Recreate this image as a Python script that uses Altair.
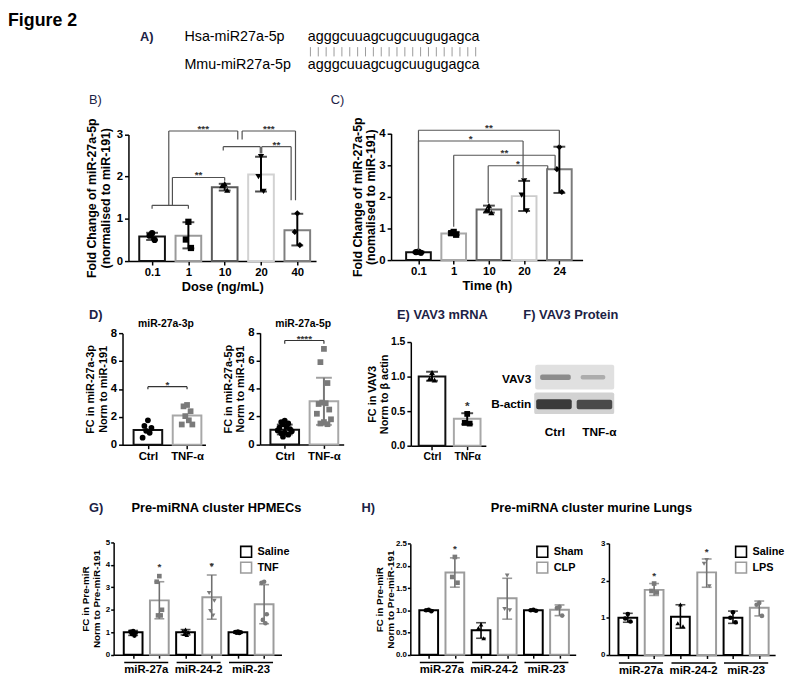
import json
import altair as alt
import pandas as pd

FONT = "Liberation Sans"
NAVY = "#1c2245"
BAR_GREY = "#a8a8a8"
PT_GREY = "#7a7a7a"
W, H = 777, 672

# ---------------- data ----------------
A_species = ["Hsa-miR27a-5p", "Mmu-miR27a-5p"]
A_sequence = "agggcuuagcugcuugugagca"

B_doses = ["0.1", "1", "10", "20", "40"]
B_means = [0.58, 0.60, 1.75, 2.05, 0.73]
B_points = [[0.66, 0.60, 0.50], [0.93, 0.51, 0.31], [1.83, 1.79, 1.68],
            [2.47, 2.00, 1.65], [1.13, 0.69, 0.38]]
B_low = [0.50, 0.30, 1.67, 1.65, 0.37]
B_high = [0.67, 0.92, 1.83, 2.47, 1.12]
# x1, x2 (category index), bracket level, left leg end, right leg end, label
B_brackets = [
    (0.00, 1.00, 1.32, 1.24, 1.24, ""),
    (0.56, 2.00, 1.98, 1.32, 1.90, "**"),
    (0.46, 2.36, 3.08, 1.32, 2.88, "***"),
    (2.48, 3.95, 3.08, 2.88, 1.44, "***"),
    (1.96, 2.98, 2.71, 2.62, 2.55, ""),
    (3.02, 3.83, 2.71, 2.55, 1.44, "**"),
]

C_times = ["0.1", "1", "10", "20", "24"]
C_means = [0.25, 0.84, 1.60, 2.02, 2.87]
C_points = [[0.27, 0.25, 0.23], [0.89, 0.85, 0.80], [1.72, 1.58, 1.50],
            [2.50, 2.05, 1.55], [3.57, 2.87, 2.15]]
C_low = [0.23, 0.79, 1.50, 1.55, 2.12]
C_high = [0.27, 0.89, 1.72, 2.50, 3.58]
C_brackets = [
    (0.00, 4.00, 4.10, 0.32, 3.62, "**"),
    (0.00, 2.97, 3.76, 0.32, 2.56, "*"),
    (1.00, 3.88, 3.31, 1.05, 2.87, "**"),
    (1.98, 3.67, 2.98, 1.80, 2.87, "*"),
]

D_groups = ["Ctrl", "TNF-α"]
D3p_means = [1.05, 2.10]
D3p_points = [[1.75, 1.35, 1.20, 1.00, 0.85, 0.50],
              [2.85, 2.75, 2.40, 2.05, 1.75, 1.45, 1.45]]
D3p_brackets = [(0, 1, 4.16, 3.97, 3.97, "*")]
D5p_means = [1.05, 3.10]
D5p_points = [[1.70, 1.60, 1.50, 1.45, 1.30, 1.20, 1.10, 1.00, 0.95, 0.85, 0.80, 0.70, 0.55],
              [6.85, 5.90, 4.40, 3.00, 2.95, 2.90, 2.50, 2.20, 1.80, 1.60, 1.50, 1.45]]
D5p_low = [0.72, 1.40]
D5p_high = [1.42, 4.78]
D5p_brackets = [(0, 1, 7.45, 7.22, 7.22, "****")]

E_groups = ["Ctrl", "TNFα"]
E_means = [1.00, 0.39]
E_points = [[1.06, 0.97, 0.95], [0.46, 0.33, 0.32]]
E_low = [0.94, 0.31]
E_high = [1.07, 0.47]
E_stars = [(1, 0.62, "*")]

F_lanes = ["Ctrl", "TNF-α"]
F_proteins = ["VAV3", "B-actin"]

PRE_groups = ["miR-27a", "miR-24-2", "miR-23"]
G_treats = ["Saline", "TNF"]
G_means = [[1.00, 1.00, 1.00], [2.42, 2.56, 2.25]]
G_points = [
    [[1.05, 1.02, 0.98, 0.92, 0.85], [1.12, 1.06, 1.00, 0.92, 0.88], [1.03, 1.01, 1.00, 0.98, 0.97]],
    [[3.50, 3.25, 2.00, 1.75, 1.75], [3.97, 2.75, 2.40, 1.95, 1.75], [3.25, 3.20, 1.80, 1.55, 1.40]],
]
G_low = [[0.86, 0.88, 0.96], [1.60, 1.58, 1.38]]
G_high = [[1.08, 1.12, 1.03], [3.25, 3.55, 3.12]]
G_stars = [(0.5, 4.05, "*"), (1.5, 4.10, "*")]

H1_treats = ["Sham", "CLP"]
H1_means = [[1.00, 0.55, 1.00], [1.85, 1.27, 1.01]]
H1_points = [
    [[1.01, 1.00, 0.98], [0.68, 0.60, 0.37], [1.01, 1.00, 0.99]],
    [[2.20, 1.75, 1.62], [1.78, 1.00, 1.03], [1.08, 1.05, 0.88]],
]
H1_low = [[0.98, 0.37, 0.99], [1.52, 0.80, 0.88]]
H1_high = [[1.01, 0.72, 1.01], [2.18, 1.72, 1.12]]
H1_stars = [(0.5, 2.45, "*")]

H2_treats = ["Saline", "LPS"]
H2_means = [[1.00, 1.03, 1.00], [1.75, 2.22, 1.27]]
H2_points = [
    [[1.10, 0.98, 0.90], [1.36, 0.85, 0.77], [1.15, 1.00, 0.88]],
    [[1.92, 1.72, 1.68], [2.55, 2.45, 1.85], [1.40, 1.35, 1.05]],
]
H2_low = [[0.88, 0.72, 0.85], [1.60, 1.82, 1.05]]
H2_high = [[1.12, 1.35, 1.18], [1.92, 2.58, 1.45]]
H2_stars = [(0.5, 2.20, "*"), (1.5, 2.85, "*")]


# ---------------- helpers ----------------
def dummy():
    return pd.DataFrame({"d": [0]})


def txt(text, x, y, size=13, weight="bold", color="black", align="left", baseline="middle"):
    return alt.Chart(dummy()).mark_text(
        text=text, font=FONT, fontSize=size, fontWeight=weight, color=color,
        align=align, baseline=baseline).encode(x=alt.value(x), y=alt.value(y))


def spread(vals, step):
    order = sorted(range(len(vals)), key=lambda k: -vals[k])
    pattern = [0, -1, 1, -0.5, 0.5, -1.5, 1.5, -2, 2]
    offs = [0.0] * len(vals)
    for r, k in enumerate(order):
        offs[k] = pattern[r % len(pattern)] * step
    return offs


def panel(layers):
    return alt.layer(*layers).resolve_axis(x="independent", y="independent")


def bracket_layers(brackets, xs, ys, color, star_size):
    segs, labs = [], []
    for x1, x2, y, l1, l2, lab in brackets:
        segs += [dict(x=x1, x2=x2, y=y, y2=y), dict(x=x1, x2=x1, y=y, y2=l1),
                 dict(x=x2, x2=x2, y=y, y2=l2)]
        if lab:
            labs.append(dict(x=(x1 + x2) / 2, y=y, t=lab))
    out = [alt.Chart(pd.DataFrame(segs)).mark_rule(strokeWidth=1.2, color=color).encode(
        x=alt.X("x:Q", scale=xs, axis=None), x2="x2:Q",
        y=alt.Y("y:Q", scale=ys, axis=None), y2="y2:Q")]
    if labs:
        out.append(alt.Chart(pd.DataFrame(labs)).mark_text(
            font=FONT, fontSize=star_size, fontWeight="bold", color="#333",
            baseline="alphabetic", dy=1).encode(
            x=alt.X("x:Q", scale=xs, axis=None), y=alt.Y("y:Q", scale=ys, axis=None), text="t:N"))
    return out


def star_layer(stars, xs, ys, size):
    df = pd.DataFrame([dict(x=a, y=b, t=c) for a, b, c in stars])
    return alt.Chart(df).mark_text(font=FONT, fontSize=size, fontWeight="bold", color="#333",
                                   baseline="middle", dy=3).encode(
        x=alt.X("x:Q", scale=xs, axis=None), y=alt.Y("y:Q", scale=ys, axis=None), text="t:N")


def bar_panel(cats, means, points, low, high, *, xrange, xdom, yrange, yticks, yfmt,
              bar_strokes, pt_colors, err_colors, shapes, bar_size, pt_size, cap,
              ytitle, ytitle_size, ytitle_pad, ylab_size, xlab_size, xtitle=None,
              xtitle_size=12, brackets=(), stars=(), star_size=10, br_color="#444",
              step=0.07, err_w=2):
    n = len(cats)
    xs = alt.Scale(domain=xdom, range=xrange, nice=False, zero=False)
    ys = alt.Scale(domain=[0, yticks[-1]], range=yrange, nice=False)
    xkw = dict(orient="bottom", offset=-(H - yrange[0]), values=list(range(n)),
               labelExpr=json.dumps(cats) + "[datum.value]",
               labelFontSize=xlab_size, labelPadding=2, title=xtitle)
    if xtitle:
        xkw.update(titleFontSize=xtitle_size, titlePadding=2)
    ykw = dict(orient="left", offset=-xrange[0], values=yticks, format=yfmt,
               labelFontSize=ylab_size, title=ytitle, titleFontSize=ytitle_size,
               titlePadding=ytitle_pad, titleLineHeight=ytitle_size + 1.5)
    bars = pd.DataFrame({"pos": list(range(n)), "mean": means, "stroke": bar_strokes})
    layers = [alt.Chart(bars).mark_bar(fill="white", strokeWidth=2, size=bar_size).encode(
        x=alt.X("pos:Q", scale=xs, axis=alt.Axis(**xkw)),
        y=alt.Y("mean:Q", scale=ys, axis=alt.Axis(**ykw)),
        stroke=alt.Stroke("stroke:N", scale=None))]
    if low is not None:
        err = pd.DataFrame({"pos": list(range(n)), "lo": low, "hi": high, "col": err_colors})
        layers.append(alt.Chart(err).mark_rule(strokeWidth=err_w).encode(
            x=alt.X("pos:Q", scale=xs, axis=None), y=alt.Y("lo:Q", scale=ys, axis=None),
            y2="hi:Q", color=alt.Color("col:N", scale=None)))
        caps = pd.DataFrame({"pos": list(range(n)) * 2, "v": list(low) + list(high),
                             "col": list(err_colors) * 2})
        layers.append(alt.Chart(caps).mark_tick(orient="horizontal", size=cap, thickness=err_w).encode(
            x=alt.X("pos:Q", scale=xs, axis=None), y=alt.Y("v:Q", scale=ys, axis=None),
            color=alt.Color("col:N", scale=None)))
    rows = []
    for i, vals in enumerate(points):
        for v, o in zip(vals, spread(vals, step)):
            rows.append(dict(px=i + o, v=v, shape=shapes[i], col=pt_colors[i]))
    layers.append(alt.Chart(pd.DataFrame(rows)).mark_point(filled=True, size=pt_size, opacity=1).encode(
        x=alt.X("px:Q", scale=xs, axis=None), y=alt.Y("v:Q", scale=ys, axis=None),
        shape=alt.Shape("shape:N", scale=None), color=alt.Color("col:N", scale=None)))
    if brackets:
        layers += bracket_layers(brackets, xs, ys, br_color, star_size)
    if stars:
        layers.append(star_layer(stars, xs, ys, star_size + 2))
    return panel(layers)


def grouped_panel(groups, treats, means, points, low, high, *, xrange, xdom, yrange, yticks,
                  yfmt, ytitle, stars, legend_xy, ytitle_pad=5):
    xs = alt.Scale(domain=xdom, range=xrange, nice=False, zero=False)
    ys = alt.Scale(domain=[0, yticks[-1]], range=yrange, nice=False)
    shapes = [["circle", "triangle-up", "circle"], ["square", "triangle-down", "circle"]]
    pt_cols = ["black", PT_GREY]
    err_cols = ["black", "#707070"]
    bar_rows, err_rows, cap_rows, pt_rows = [], [], [], []
    for t, tr in enumerate(treats):
        for g in range(len(groups)):
            pos = g + 0.5 * t
            bar_rows.append(dict(pos=pos, mean=means[t][g], treat=tr))
            err_rows.append(dict(pos=pos, lo=low[t][g], hi=high[t][g], col=err_cols[t]))
            cap_rows += [dict(pos=pos, v=low[t][g], col=err_cols[t]),
                         dict(pos=pos, v=high[t][g], col=err_cols[t])]
            vals = points[t][g]
            for v, o in zip(vals, spread(vals, 0.05)):
                pt_rows.append(dict(px=pos + o, v=v, shape=shapes[t][g], col=pt_cols[t]))
    ykw = dict(orient="left", offset=-xrange[0], values=yticks, format=yfmt, labelFontSize=8,
               tickSize=3, labelPadding=1)
    if ytitle:
        ykw.update(title=ytitle, titleFontSize=10, titleLineHeight=11.5, titlePadding=ytitle_pad)
    else:
        ykw.update(title=None)
    xkw = dict(orient="bottom", offset=-(H - yrange[0]),
               values=[g + 0.5 * t for g in range(len(groups)) for t in range(len(treats))],
               labels=False, title=None, tickSize=3.5)
    legend = alt.Legend(orient="none", legendX=legend_xy[0], legendY=legend_xy[1], title=None,
                        symbolType="square", symbolSize=121, symbolStrokeWidth=1.6,
                        symbolFillColor="white", labelFont=FONT, labelFontSize=11,
                        labelFontWeight="bold", labelColor="black", rowPadding=-4,
                        padding=0, labelOffset=5)
    base = yrange[0]
    layers = [
        alt.Chart(pd.DataFrame(bar_rows)).mark_bar(fill="white", strokeWidth=2, size=19).encode(
            x=alt.X("pos:Q", scale=xs, axis=alt.Axis(**xkw)),
            y=alt.Y("mean:Q", scale=ys, axis=alt.Axis(**ykw)),
            stroke=alt.Stroke("treat:N", scale=alt.Scale(domain=treats, range=["black", "#9c9c9c"]),
                              legend=legend)),
        alt.Chart(pd.DataFrame(err_rows)).mark_rule(strokeWidth=1.6).encode(
            x=alt.X("pos:Q", scale=xs, axis=None), y=alt.Y("lo:Q", scale=ys, axis=None),
            y2="hi:Q", color=alt.Color("col:N", scale=None)),
        alt.Chart(pd.DataFrame(cap_rows)).mark_tick(orient="horizontal", size=10, thickness=1.6).encode(
            x=alt.X("pos:Q", scale=xs, axis=None), y=alt.Y("v:Q", scale=ys, axis=None),
            color=alt.Color("col:N", scale=None)),
        alt.Chart(pd.DataFrame(pt_rows)).mark_point(filled=True, size=22, opacity=1).encode(
            x=alt.X("px:Q", scale=xs, axis=None), y=alt.Y("v:Q", scale=ys, axis=None),
            shape=alt.Shape("shape:N", scale=None), color=alt.Color("col:N", scale=None)),
        star_layer(stars, xs, ys, 10),
    ]
    gdf = pd.DataFrame({"gx": [g + 0.25 for g in range(len(groups))],
                        "a": [g + 0.25 - 0.42 for g in range(len(groups))],
                        "b": [g + 0.25 + 0.42 for g in range(len(groups))],
                        "name": groups})
    layers.append(alt.Chart(gdf).mark_rule(color="black", strokeWidth=1.5).encode(
        x=alt.X("a:Q", scale=xs, axis=None), x2="b:Q", y=alt.value(base + 8)))
    layers.append(alt.Chart(gdf).mark_text(font=FONT, fontSize=11.5, fontWeight="bold",
                                           color="black", baseline="middle").encode(
        x=alt.X("gx:Q", scale=xs, axis=None), y=alt.value(base + 16), text="name:N"))
    return panel(layers)


# ---------------- header (Figure 2 / panel A) ----------------
seq_df = pd.DataFrame({"i": list(range(len(A_sequence)))})
header = [
    txt("Figure 2", 0, 0, size=18, baseline="top"),
    txt("A)", 133.7, 25.3, size=13, color=NAVY),
    txt(A_species[0], 178.7, 24.7, size=14.5, weight="normal"),
    txt(A_sequence, 303.7, 24.7, size=14.5, weight="normal"),
    txt(A_species[1], 178.7, 53, size=14.5, weight="normal"),
    txt(A_sequence, 303.7, 53, size=14.5, weight="normal"),
    alt.Chart(seq_df).mark_rule(color="#9a9a9a", strokeWidth=1).encode(
        x=alt.X("i:Q", scale=alt.Scale(domain=[0, 21], range=[306.3, 473.7], nice=False, zero=False),
                axis=None),
        y=alt.value(35.3), y2=alt.value(44.7)),
]

# ---------------- B and C ----------------
B = bar_panel(B_doses, B_means, B_points, B_low, B_high, xrange=[122, 312], xdom=[-0.515, 4.38],
              yrange=[252, 123.7], yticks=[0, 1, 2, 3], yfmt="d",
              bar_strokes=["#111111", "#9a9a9a", "#5a5a5a", "#d2d2d2", "#7f7f7f"],
              pt_colors=["black"] * 5, err_colors=["black"] * 5,
              shapes=["circle", "square", "triangle-up", "triangle-down", "diamond"],
              bar_size=26, pt_size=40, cap=12, ytitle=["Fold Change of miR-27a-5p", "(normalised to miR-191)"],
              ytitle_size=12.5, ytitle_pad=4, ylab_size=11.5, xlab_size=11.5, xtitle="Dose (ng/mL)",
              xtitle_size=13, brackets=B_brackets, star_size=10, br_color="#505050")

C = bar_panel(C_times, C_means, C_points, C_low, C_high, xrange=[388, 582], xdom=[-0.638, 4.52],
              yrange=[251, 122.7], yticks=[0, 1, 2, 3, 4], yfmt="d",
              bar_strokes=["#111111", "#a8a8a8", "#666666", "#cccccc", "#7a7a7a"],
              pt_colors=["black"] * 5, err_colors=["black"] * 5,
              shapes=["circle", "square", "triangle-up", "triangle-down", "diamond"],
              bar_size=25, pt_size=40, cap=12, ytitle=["Fold Change of miR-27a-5p", "(nomalised to miR-191)"],
              ytitle_size=12.5, ytitle_pad=1, ylab_size=11.5, xlab_size=11.5, xtitle="Time (h)",
              xtitle_size=13, brackets=C_brackets, star_size=10, br_color="#555555")

# ---------------- D, E, F ----------------
D1 = bar_panel(D_groups, D3p_means, D3p_points, None, None, xrange=[116, 200], xdom=[-0.522, 1.344],
               yrange=[438, 325], yticks=[0, 2, 4, 6, 8], yfmt="d",
               bar_strokes=["#111111", BAR_GREY], pt_colors=["black", PT_GREY], err_colors=None,
               shapes=["circle", "square"], bar_size=29, pt_size=34, cap=12,
               ytitle=["FC in miR-27a-3p", "Norm to miR-191"], ytitle_size=11, ytitle_pad=2,
               ylab_size=11.5, xlab_size=11.5, brackets=D3p_brackets, star_size=10, br_color="#333",
               step=0.09)

D2 = bar_panel(D_groups, D5p_means, D5p_points, D5p_low, D5p_high, xrange=[255.3, 340],
               xdom=[-0.504, 1.378], yrange=[437.7, 324.7], yticks=[0, 2, 4, 6, 8], yfmt="d",
               bar_strokes=["#111111", BAR_GREY], pt_colors=["black", PT_GREY],
               err_colors=["black", "#777777"], shapes=["circle", "square"], bar_size=29,
               pt_size=34, cap=16, ytitle=["FC in miR-27a-5p", "Norm to miR-191"], ytitle_size=11,
               ytitle_pad=2, ylab_size=11.5, xlab_size=11.5, brackets=D5p_brackets, star_size=10,
               br_color="#333", step=0.09)

E = bar_panel(E_groups, E_means, E_points, E_low, E_high, xrange=[408, 484], xdom=[-0.463, 1.39],
              yrange=[439, 334], yticks=[0, 0.5, 1.0, 1.5], yfmt=".1f",
              bar_strokes=["#111111", BAR_GREY], pt_colors=["black", "black"],
              err_colors=["black", "black"], shapes=["triangle-up", "square"], bar_size=27,
              pt_size=34, cap=12, ytitle=["FC in VAV3", "Norm to β actin"], ytitle_size=11,
              ytitle_pad=1, ylab_size=10.5, xlab_size=10.5, stars=E_stars, star_size=10)

blot = pd.DataFrame({
    "x": [0, 5, 46, -1, 1, 42],
    "x2": [80, 36, 71, 80, 37, 78],
    "y": [0, 10, 10.5, 28, 35, 35.5],
    "y2": [25, 15.5, 15, 50, 45, 45],
    "col": ["#e0e0e0", "#8c8c8c", "#acacac", "#d2d2d2", "#3a3a3a", "#4a4a4a"],
})
F = alt.Chart(blot).mark_rect(cornerRadius=2).encode(
    x=alt.X("x:Q", scale=alt.Scale(domain=[0, 80], range=[534, 614], nice=False, zero=False), axis=None),
    x2="x2:Q",
    y=alt.Y("y:Q", scale=alt.Scale(domain=[0, 50], range=[357, 407], nice=False, zero=False), axis=None),
    y2="y2:Q", color=alt.Color("col:N", scale=None))

# ---------------- G and H ----------------
G = grouped_panel(PRE_groups, G_treats, G_means, G_points, G_low, G_high, xrange=[107, 277],
                  xdom=[-0.278, 2.737], yrange=[650.7, 537], yticks=[0, 1, 2, 3, 4, 5], yfmt="d",
                  ytitle=["FC in Pre-miR", "Norm to Pre-miR-191"], stars=G_stars,
                  legend_xy=(234.7, 540), ytitle_pad=4)
H1 = grouped_panel(PRE_groups, H1_treats, H1_means, H1_points, H1_low, H1_high, xrange=[407.5, 575],
                   xdom=[-0.257, 2.715], yrange=[650.7, 538.2], yticks=[0, 0.5, 1.0, 1.5, 2.0, 2.5],
                   yfmt=".1f", ytitle=["FC in Pre-miR", "Norm to Pre-miR-191"], stars=H1_stars,
                   legend_xy=(534.7, 540), ytitle_pad=0)
H2 = grouped_panel(PRE_groups, H2_treats, H2_means, H2_points, H2_low, H2_high, xrange=[608.7, 777],
                   xdom=[-0.265, 2.708], yrange=[651, 537.9], yticks=[0, 1, 2, 3], yfmt="d",
                   ytitle=None, stars=H2_stars, legend_xy=(736, 540))

labels = [
    txt("B)", 82, 89, size=13, weight="normal", color=NAVY),
    txt("C)", 327, 89, size=13, weight="normal", color=NAVY),
    txt("D)", 82, 307, size=13, color=NAVY),
    txt("miR-27a-3p", 160, 316, size=10.5, align="center"),
    txt("miR-27a-5p", 299, 316, size=10.5, align="center"),
    txt("E) VAV3 mRNA", 394, 307, size=13, color=NAVY),
    txt("F) VAV3 Protein", 522, 307, size=13, color=NAVY),
    txt(F_proteins[0], 530, 371, size=12, align="right"),
    txt(F_proteins[1], 530, 397, size=12, align="right"),
    txt(F_lanes[0], 554, 424.7, size=12, align="center"),
    txt(F_lanes[1], 599, 424.7, size=12, align="center"),
    txt("G)", 82, 502, size=13, color=NAVY),
    txt("Pre-miRNA cluster HPMECs", 125, 502, size=13),
    txt("H)", 358, 502, size=13, color=NAVY),
    txt("Pre-miRNA cluster murine Lungs", 489, 502, size=13),
]

chart = alt.layer(*header, B, C, D1, D2, E, F, G, H1, H2, *labels).properties(
    width=W, height=H, padding=0
).resolve_scale(
    x="independent", y="independent", stroke="independent", color="independent",
    shape="independent"
).resolve_axis(x="independent", y="independent").resolve_legend(stroke="independent")

chart = chart.configure_view(stroke=None).configure_axis(
    domainColor="black", domainWidth=1.5, tickColor="black", tickWidth=1.5, tickSize=4,
    labelFont=FONT, labelFontWeight="bold", labelColor="black", labelFlush=False,
    labelOverlap=False, titleFont=FONT, titleFontWeight="bold", titleColor="black", grid=False)

chart.save("out.html", embed_options={"renderer": "svg", "actions": False})
